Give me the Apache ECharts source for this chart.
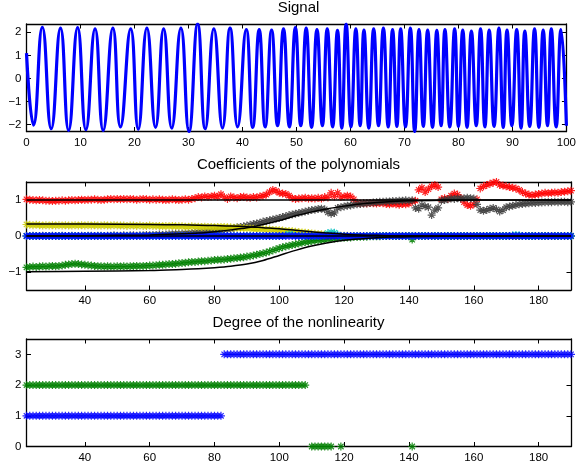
<!DOCTYPE html>
<html><head><meta charset="utf-8">
<script src="https://cdn.jsdelivr.net/npm/echarts@6/dist/echarts.min.js"></script>
<style>html,body{margin:0;padding:0;background:#fff}#c{width:579px;height:468px}</style>
</head><body><div id="c"></div>
<script>
// ---------- Panel 1: Signal (extremes) ----------
const SIG_X = [0,1.3,2.93,4.58,6.3,7.8,9.47,11.0,12.7,14.2,16.0,17.4,19.3,20.7,22.3,23.9,25.4,26.9,28.6,30.1,31.7,33.1,34.7,36.3,37.7,39.1,40.7,41.9,43.1,44.2,45.4,46.5,47.6,48.7,49.8,50.8,51.8,52.8,53.8,54.8,55.7,56.7,57.6,58.4,59.2,60.1,61.0,61.8,62.5,63.4,64.3,65.2,66.1,67.0,67.8,68.6,69.3,70.2,71.1,71.9,72.7,73.5,74.3,75.2,76.0,76.8,77.5,78.4,79.3,80.0,80.8,81.6,82.4,83.3,84.1,84.9,85.7,86.6,87.5,88.3,89.0,89.9,90.8,91.6,92.3,93.2,94.1,94.9,95.7,96.5,97.2,98.1,99.0,100];
const SIG_Y = [1.1,-2.02,2.22,-2.18,2.18,-2.25,2.2,-2.22,2.15,-2.25,2.18,-2.1,2.15,-2.2,2.18,-2.12,2.15,-2.15,2.18,-2.3,2.36,-2.18,2.15,-2.15,2.18,-2.1,2.12,-2.12,2.12,-2.1,2.1,-2.05,2.15,-2.1,2.2,-2.05,2.18,-2.12,2.12,-2.05,2.15,-2.1,2.08,-2.15,2.36,-2.1,2.15,-2.05,2.1,-2.15,2.15,-2.05,2.18,-2.1,2.12,-2.08,2.15,-2.1,2.18,-2.3,2.12,-2.08,2.1,-2.12,2.08,-2.05,2.12,-2.1,2.15,-2.08,2.1,-2.12,2.05,-2.05,2.15,-2.1,2.1,-2.08,2.18,-2.12,2.1,-2.05,2.12,-2.15,2.05,-2.08,2.15,-2.12,2.1,-2.05,2.15,-2.1,2.12,-2.05];
const SIG_X_TICKS = [0,10,20,30,40,50,60,70,80,90,100];
const SIG_Y_TICKS = [-2,-1,0,1,2];

// ---------- Panel 2: Coefficients (one value per sample, first sample = 22) ----------
const COEF_X0 = 22;
const COEF_RED = [
1.02,1.01,1.00,0.99,1.00,0.99,0.98,0.98,0.97,0.98,
0.98,0.99,0.98,0.99,1.00,0.99,1.00,1.01,1.00,1.01,
1.01,1.02,1.01,1.00,1.01,1.02,1.03,1.02,1.03,1.02,
1.03,1.02,1.03,1.02,1.01,1.02,1.03,1.02,1.01,1.02,
1.01,1.02,1.01,1.00,1.01,1.02,1.01,1.00,1.01,1.02,
1.01,1.03,1.05,1.08,1.07,1.10,1.08,1.10,1.12,1.09,
1.16,1.08,1.03,1.10,1.07,1.05,1.08,1.09,1.07,1.06,
1.08,1.07,1.10,1.12,1.15,1.22,1.28,1.25,1.20,1.18,
1.17,1.12,1.05,1.03,1.04,1.05,1.06,1.04,1.05,1.04,
1.06,1.04,1.08,1.07,1.20,1.10,1.20,1.08,1.10,1.12,
1.10,1.02,0.92,0.90,0.91,0.90,0.92,0.91,0.90,0.92,
0.91,0.89,0.88,0.90,0.88,0.87,0.89,0.88,0.90,0.96,
0.98,1.28,1.34,1.22,1.30,1.38,1.42,1.36,1.02,1.05,
1.03,1.12,1.18,1.15,1.05,0.94,0.86,0.84,0.88,1.02,
1.32,1.38,1.42,1.45,1.48,1.50,1.42,1.40,1.38,1.36,
1.34,1.32,1.28,1.22,1.18,1.15,1.13,1.15,1.17,1.18,
1.20,1.19,1.20,1.21,1.20,1.22,1.23,1.24,1.26];
const COEF_GRAY = [
0.00,0.00,0.01,0.00,0.00,0.01,0.00,0.00,0.01,0.00,
0.00,0.01,0.00,0.00,0.01,0.00,0.00,0.01,0.00,0.01,
0.01,0.00,0.01,0.01,0.00,0.01,0.01,0.02,0.01,0.01,
0.02,0.01,0.02,0.02,0.01,0.02,0.02,0.03,0.02,0.03,
0.03,0.04,0.03,0.04,0.05,0.05,0.06,0.06,0.06,0.07,
0.07,0.08,0.09,0.10,0.10,0.11,0.12,0.13,0.14,0.15,
0.16,0.18,0.19,0.20,0.22,0.24,0.25,0.27,0.29,0.31,
0.33,0.35,0.37,0.40,0.42,0.44,0.46,0.48,0.50,0.53,
0.55,0.58,0.60,0.62,0.64,0.66,0.68,0.70,0.72,0.73,
0.75,0.76,0.74,0.66,0.62,0.64,0.78,0.80,0.82,0.84,
0.85,0.87,0.88,0.89,0.90,0.91,0.92,0.93,0.94,0.95,
0.95,0.96,0.96,0.97,0.97,0.98,0.98,0.99,0.98,0.99,
0.78,0.76,0.86,0.82,0.80,0.58,0.72,0.78,0.98,1.00,
1.02,1.04,1.03,1.05,1.04,1.05,1.06,1.05,1.04,0.88,
0.72,0.70,0.72,0.76,0.78,0.74,0.68,0.72,0.80,0.82,
0.84,0.86,0.88,0.89,0.90,0.91,0.92,0.92,0.93,0.93,
0.94,0.94,0.94,0.95,0.94,0.95,0.95,0.94,0.95];
const COEF_YELLOW = [
0.32,0.31,0.30,0.31,0.30,0.29,0.30,0.29,0.30,0.29,
0.30,0.29,0.30,0.29,0.29,0.30,0.29,0.30,0.29,0.30,
0.29,0.30,0.29,0.29,0.30,0.29,0.29,0.30,0.29,0.29,
0.29,0.28,0.29,0.29,0.28,0.29,0.28,0.28,0.29,0.28,
0.28,0.28,0.27,0.28,0.27,0.28,0.27,0.27,0.27,0.26,
0.26,0.27,0.26,0.26,0.25,0.26,0.25,0.25,0.24,0.25,
0.25,0.25,0.24,0.24,0.23,0.23,0.22,0.22,0.21,0.21,
0.20,0.20,0.19,0.19,0.18,0.18,0.17,0.17,0.16,0.15,
0.14,0.14,0.13,0.12,0.11,0.10,0.09,0.08,0.07,0.06,
0.05,0.05,0.04,0.03,0.03,0.02,0.02,0.01,0.01,0.01,
0,0,0,0,0,0,0,0,0,0,
0,0,0,0,0,0,0,0,0,0,
0,0,0,0,0,0,0,0,0,0,
0,0,0,0,0,0,0,0,0,0,
0,0,0,0,0,0,0,0,0,0,
0,0,0,0,0,0,0,0,0,0,
0,0,0,0,0,0,0,0,0];
const COEF_GREEN = [
-0.87,-0.86,-0.85,-0.86,-0.85,-0.84,-0.85,-0.84,-0.83,-0.84,
-0.83,-0.82,-0.80,-0.79,-0.78,-0.77,-0.78,-0.79,-0.80,-0.81,
-0.82,-0.83,-0.84,-0.84,-0.85,-0.84,-0.85,-0.85,-0.84,-0.85,
-0.84,-0.85,-0.84,-0.84,-0.83,-0.84,-0.83,-0.83,-0.82,-0.82,
-0.81,-0.80,-0.80,-0.79,-0.78,-0.78,-0.77,-0.76,-0.75,-0.74,
-0.73,-0.72,-0.72,-0.71,-0.70,-0.70,-0.69,-0.68,-0.67,-0.66,
-0.66,-0.65,-0.64,-0.63,-0.62,-0.61,-0.60,-0.59,-0.57,-0.56,
-0.54,-0.52,-0.50,-0.48,-0.46,-0.43,-0.40,-0.37,-0.34,-0.31,
-0.29,-0.27,-0.25,-0.23,-0.21,-0.19,-0.17,-0.16,-0.14,-0.13,
-0.12,-0.11,-0.10,-0.09,-0.08,-0.07,-0.06,-0.05,-0.05,-0.04,
-0.04,-0.03,-0.03,-0.02,-0.02,-0.02,-0.01,-0.01,-0.01,-0.01,
0,0,0,0,0,0,0,0,0,-0.10,
0,0,0,0,0,0,0,0,0,0,
0,0,0,0,0,0,0,0,0,0,
0,0,0,0,0,0,0,0,0,0,
0,0,0,0,0,0,0,0,0,0,
0,0,0,0,0,0,0,0,0];
const COEF_CYAN = [
0,0,0,0,0,0,0,0,0,0,
0,0,0,0,0,0,0,0,0,0,
0,0,0,0,0,0,0,0,0,0,
0,0,0,0,0,0,0,0,0,0,
0,0,0,0,0,0,0,0,0,0,
0,0,0,0,0,0,0,0,0,0,
0,0,0,0,0,0,0,0,0,0,
0,0,0,0,0,0,0,0,0,0,
0.02,0.05,0.03,0.01,0,0,0,0,0,0,
0,0,0.03,0.08,0.10,0.09,0.04,0,0,0,
0,0,0,0,0,0,0,0,0,0,
0,0,0,0,0,0,0,0,0,0,
0,0,0,0,0,0,0,0,0,0,
0,0,0,0,0,0,0,0,0,0,
0,0,0,0,0,0,0,0,0,0,
0.02,0.03,0.02,0,0,0,0,0,0,0,
0,0,0,0,0,0,0,0,0];
const COEF_BLUE = [
0,0,0,0,0,0,0,0,0,0,
0,0,0,0,0,0,0,0,0,0,
0,0,0,0,0,0,0,0,0,0,
0,0,0,0,0,0,0,0,0,0,
0,0,0,0,0,0,0,0,0,0,
0,0,0,0,0,0,0,0,0,0,
0,0,0,0,0,0,0,0,0,0,
0,0,0,0,0,0,0,0,0,0,
0,0,0,0,0,0,0,0,0,0,
0,0,0,0,0,0,0,0,0,0,
0,0,0,0,0,0,0,0,0,0,
0,0,0,0,0,0,0,0,0,0,
0,0,0,0,0,0,0,0,0,0,
0,0,0,0,0,0,0,0,0,0,
0,0,0,0,0,0,0,0,0,0,
0,0,0,0,0,0,0,0,0,0,
0,0,0,0,0,0,0,0,0];
// true coefficient curves (black lines), read at these x positions
const TRUE_X    = [22,40,60,70,75,80,85,90,95,100,105,110,115,120,125,130,135,140,150,160,190];
const TRUE_ONE  = [1,1,1,1,1,1,1,1,1,1,1,1,1,1,1,1,1,1,1,1,1];
const TRUE_ZERO = [0,0,0,0,0,0,0,0,0,0,0,0,0,0,0,0,0,0,0,0,0];
const TRUE_RISE = [0,0.01,0.03,0.06,0.08,0.12,0.17,0.23,0.32,0.43,0.56,0.67,0.76,0.83,0.89,0.93,0.96,0.98,0.99,1.0,1.0];
const TRUE_DEC  = [0.33,0.33,0.32,0.31,0.30,0.29,0.28,0.26,0.23,0.20,0.16,0.12,0.08,0.05,0.03,0.02,0.01,0.01,0,0,0];
const TRUE_NEG  = [-0.99,-0.98,-0.96,-0.93,-0.91,-0.88,-0.84,-0.78,-0.68,-0.54,-0.40,-0.28,-0.19,-0.12,-0.08,-0.05,-0.03,-0.02,-0.01,0,0];
const COEF_X_TICKS = [40,60,80,100,120,140,160,180];
const COEF_Y_TICKS = [-1,0,1];

// ---------- Panel 3: Degree of the nonlinearity ----------
const DEG_BLUE = [
1,1,1,1,1,1,1,1,1,1, 1,1,1,1,1,1,1,1,1,1, 1,1,1,1,1,1,1,1,1,1,
1,1,1,1,1,1,1,1,1,1, 1,1,1,1,1,1,1,1,1,1, 1,1,1,1,1,1,1,1,1,1, 1,
3,3,3,3,3,3,3,3,3,3, 3,3,3,3,3,3,3,3,3,3, 3,3,3,3,3,3,3,3,3,3,
3,3,3,3,3,3,3,3,3,3, 3,3,3,3,3,3,3,3,3,3, 3,3,3,3,3,3,3,3,3,3,
3,3,3,3,3,3,3,3,3,3, 3,3,3,3,3,3,3,3,3,3, 3,3,3,3,3,3,3,3,3,3,
3,3,3,3,3,3,3,3,3,3, 3,3,3,3,3,3,3,3];
const DEG_GREEN = [
2,2,2,2,2,2,2,2,2,2, 2,2,2,2,2,2,2,2,2,2, 2,2,2,2,2,2,2,2,2,2,
2,2,2,2,2,2,2,2,2,2, 2,2,2,2,2,2,2,2,2,2, 2,2,2,2,2,2,2,2,2,2,
2,2,2,2,2,2,2,2,2,2, 2,2,2,2,2,2,2,2,2,2, 2,2,2,2,2,2,2,
null, 0,0,0,0,0,0,0, null,null, 0,
null,null,null,null,null,null,null,null,null,null,null,null,null,null,null,null,null,null,null,null,null,
0,
null,null,null,null,null,null,null,null,null,null,null,null,null,null,null,null,null,null,null,null,
null,null,null,null,null,null,null,null,null,null,null,null,null,null,null,null,null,null,null,null,
null,null,null,null,null,null,null,null,null];
const DEG_Y_TICKS = [0,1,2,3];

// ---------- drawing ----------
const FONT = 'Liberation Sans, Arial, Helvetica, sans-serif';
const STAR = 'path://M5,0L5,10M0,5L10,5M1.6,1.6L8.4,8.4M8.4,1.6L1.6,8.4';
const GRIDS = [
  {left: 26.5, top: 24,  width: 544.5, height: 107.5},
  {left: 26.5, top: 182, width: 544.5, height: 108},
  {left: 26.5, top: 339, width: 544.5, height: 107.5}
];
const xAxes = [], yAxes = [];
const fmt = v => String(v).replace('-', '\u2212');
function addAxes(g, xmin, xmax, xt, ymin, ymax, yt){
  const line = {show: true, onZero: false, lineStyle: {color: '#000', width: 1.3}};
  const tick = (vals) => ({show: true, inside: true, length: 4.5, customValues: vals, lineStyle: {color: '#000', width: 1}});
  const lab = (vals, m) => ({show: true, customValues: vals, color: '#000', fontSize: 11.5, fontFamily: FONT, margin: m, formatter: fmt});
  xAxes.push({type: 'value', gridIndex: g, min: xmin, max: xmax, position: 'bottom', axisLine: line, axisTick: tick(xt), axisLabel: lab(xt, 5), splitLine: {show: false}});
  xAxes.push({type: 'value', gridIndex: g, min: xmin, max: xmax, position: 'top', axisLine: line, axisTick: tick(xt), axisLabel: {show: false}, splitLine: {show: false}});
  yAxes.push({type: 'value', gridIndex: g, min: ymin, max: ymax, position: 'left', axisLine: line, axisTick: tick(yt), axisLabel: lab(yt, 5), splitLine: {show: false}});
  yAxes.push({type: 'value', gridIndex: g, min: ymin, max: ymax, position: 'right', axisLine: line, axisTick: tick(yt), axisLabel: {show: false}, splitLine: {show: false}});
}
addAxes(0, 0, 100, SIG_X_TICKS, -2.3, 2.36, SIG_Y_TICKS);
addAxes(1, 22, 190, COEF_X_TICKS, -1.5, 1.5, COEF_Y_TICKS);
addAxes(2, 22, 190, COEF_X_TICKS, 0, 3.5, DEG_Y_TICKS);

const samples = arr => arr.map((v, i) => [COEF_X0 + i, v]).filter(p => p[1] !== null);
function stars(g, arr, color, z){
  return {type: 'scatter', xAxisIndex: g*2, yAxisIndex: g*2, data: samples(arr), symbol: STAR, symbolSize: 8,
    itemStyle: {color: color, borderColor: color, borderWidth: 1.2, opacity: 0.85}, z: z, silent: true};
}
function trueLine(vals){
  return {type: 'line', xAxisIndex: 2, yAxisIndex: 2, data: TRUE_X.map((x, i) => [x, vals[i]]), smooth: 0.3,
    symbol: 'none', lineStyle: {color: '#000', width: 1.5}, z: 10, silent: true};
}
const series = [
  {type: 'line', xAxisIndex: 0, yAxisIndex: 0, data: SIG_X.map((x, i) => [x, SIG_Y[i]]), smooth: 0.5,
   symbol: 'none', lineStyle: {color: '#0000ff', width: 3.2}, silent: true},
  stars(1, COEF_RED, '#ff0000', 2),
  stars(1, COEF_GRAY, '#3c3c3c', 3),
  stars(1, COEF_YELLOW, '#cccc00', 4),
  stars(1, COEF_GREEN, '#008000', 5),
  stars(1, COEF_CYAN, '#00bfbf', 6),
  stars(1, COEF_BLUE, '#0000ff', 7),
  trueLine(TRUE_ONE), trueLine(TRUE_ZERO), trueLine(TRUE_RISE), trueLine(TRUE_DEC), trueLine(TRUE_NEG),
  stars(2, DEG_GREEN, '#008000', 2),
  stars(2, DEG_BLUE, '#0000ff', 3)
];
const chart = echarts.init(document.getElementById('c'), null, {renderer: 'canvas'});
chart.setOption({
  animation: false,
  backgroundColor: '#fff',
  grid: GRIDS.map(g => Object.assign({containLabel: false}, g)),
  xAxis: xAxes, yAxis: yAxes,
  series: series,
  graphic: [
    {type: 'text', x: 298.5, y: 8, style: {text: 'Signal', font: '15px ' + FONT, fill: '#000', align: 'center', verticalAlign: 'middle'}},
    {type: 'text', x: 298.5, y: 165, style: {text: 'Coefficients of the polynomials', font: '15px ' + FONT, fill: '#000', align: 'center', verticalAlign: 'middle'}},
    {type: 'text', x: 298.5, y: 323, style: {text: 'Degree of the nonlinearity', font: '15px ' + FONT, fill: '#000', align: 'center', verticalAlign: 'middle'}}
  ]
});
</script></body></html>
